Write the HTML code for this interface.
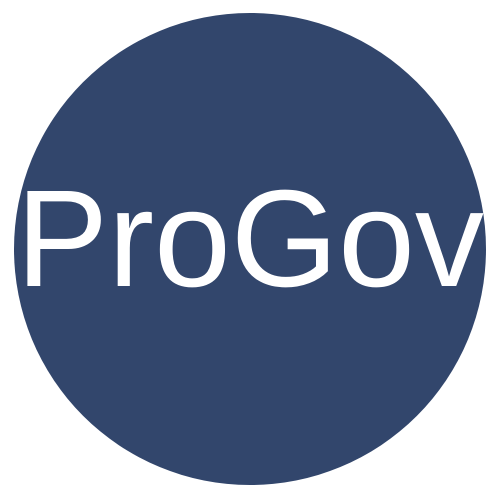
<!DOCTYPE html>
<html>
<head>
<meta charset="utf-8">
<style>
html,body{margin:0;padding:0;background:#fff;}
svg{display:block;}
</style>
</head>
<body>
<svg width="500" height="500" viewBox="0 0 500 500">
  <circle cx="250" cy="249" r="236" fill="#32466c"/>
  <text x="250" y="286" text-anchor="middle" fill="#ffffff" font-family="'Liberation Sans', Arial, sans-serif" font-size="138">ProGov</text>
</svg>
</body>
</html>
